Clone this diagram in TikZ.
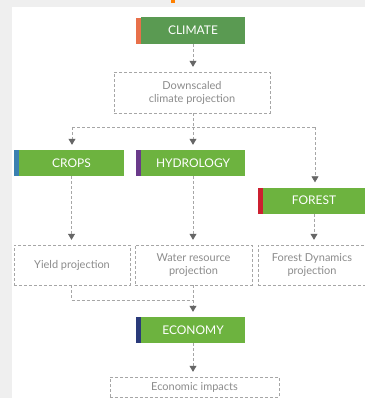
\documentclass[tikz,border=0pt]{standalone}
\usepackage{fontspec}
\setmainfont{Lato}
\usepackage{tikz}
\usetikzlibrary{arrows.meta,shapes}

\definecolor{leaf}{HTML}{6DB33F}
\definecolor{darkleaf}{HTML}{5A9A52}
\definecolor{climorange}{HTML}{E8704A}
\definecolor{cropblue}{HTML}{3A80B0}
\definecolor{hydropurple}{HTML}{6A3A8A}
\definecolor{forestred}{HTML}{CC2030}
\definecolor{econavy}{HTML}{2A3A7A}
\definecolor{pagegray}{HTML}{EFEFEF}

\begin{document}
\begin{tikzpicture}[x=1bp,y=-1bp,
  sector/.style={fill=leaf,text=white,minimum width=104bp,minimum height=26bp,inner sep=0pt,
    font=\fontsize{12}{14}\selectfont,
    label={[fill=#1,minimum width=5bp,minimum height=26bp,inner sep=0pt]west:{}}},
  result/.style={draw=black!35,dash pattern=on 3bp off 2bp,text=black!45,align=center,
    inner sep=0pt,font=\fontsize{11}{13}\selectfont},
  link/.style={draw=black!35,dash pattern=on 3bp off 2bp,line width=0.7bp},
  flow/.style={link,shorten >=5bp,-{Triangle[width=7bp,length=6bp,color=black!60]}}]
\useasboundingbox (0,0) rectangle (365,398);
\fill[pagegray] (0,0) rectangle (365,398);
\fill[white] (12,7) rectangle (365,398);
\fill[orange] (171,0) rectangle (175,3);
% sectors
\node (climate) at (193,30.5) [sector=climorange,fill=darkleaf,minimum height=27bp] {CLIMATE};
\node (crops) at (71.5,163) [sector=cropblue] {CROPS};
\node (hydro) at (193,163) [sector=hydropurple] {HYDROLOGY};
\node (forest) at (314,200.5) [sector=forestred,minimum width=102bp] {FOREST};
\node (economy) at (193,330) [sector=econavy] {ECONOMY};
% projections
\node (downscaled) at (192,92.5) [result,minimum width=156bp,minimum height=41bp] {Downscaled\\climate projection};
\node (yield) at (72,265) [result,minimum width=116bp,minimum height=40bp] {Yield projection};
\node (water) at (193.5,265) [result,minimum width=117bp,minimum height=40bp] {Water resource\\projection};
\node (forestproj) at (312,265) [result,minimum width=108bp,minimum height=40bp] {Forest Dynamics\\projection};
\node (impacts) at (194.5,387) [result,minimum width=169bp,minimum height=20bp] {Economic impacts};
% split and merge points
\coordinate (spl) at (72,127);
\coordinate (spc) at (193,127);
\coordinate (spr) at (315,127);
\coordinate (mrg) at (193,300);
\draw [flow] (climate) to (climate |- downscaled.north);
\draw [link] (climate |- downscaled.south) to (spc);
\draw [link] (spl) to (spr);
\draw [flow] (spl) to (spl |- crops.north);
\draw [flow] (spc) to (hydro);
\draw [flow] (spr) to (spr |- forest.north);
\draw [flow] (crops) to (crops |- yield.north);
\draw [flow] (hydro) to (hydro |- water.north);
\draw [flow] (forest) to (forest |- forestproj.north);
\draw [link] (crops |- yield.south) |- (mrg);
\draw [flow] (hydro |- water.south) to (economy);
\draw [flow] (economy) to (economy |- impacts.north);
\end{tikzpicture}
\end{document}
